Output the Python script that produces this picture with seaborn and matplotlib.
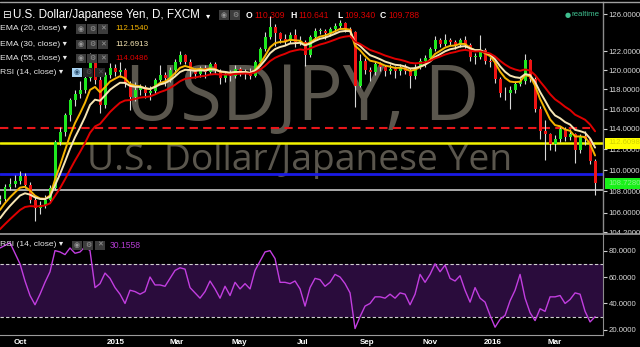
import numpy as np
import pandas as pd
import matplotlib
matplotlib.use("Agg")
import matplotlib.pyplot as plt
from matplotlib.patches import Rectangle
from matplotlib.lines import Line2D
from matplotlib.ticker import FixedLocator, FixedFormatter, NullLocator
import seaborn as sns

# ---------------- data ----------------
start_date = "2014-09-11"
end_date = "2016-04-08 18:00"
first_open = 107.1
close = [
    107.3, 108.4, 108.7, 109.0, 109.4, 108.6, 107.2, 106.4, 106.7, 107.2,
    108.3, 112.7, 113.7, 115.4, 116.9, 117.5, 117.9, 119.2, 121.1, 119.0,
    116.4, 119.5, 120.2, 119.8, 120.0, 118.6, 117.2, 117.9, 118.2, 117.6,
    117.8, 119.0, 119.5, 119.2, 120.0, 120.9, 121.6, 120.9, 119.9, 119.6,
    120.2, 119.8, 120.6, 119.9, 119.2, 119.6, 119.4, 120.1, 119.8, 119.8,
    119.4, 120.8, 122.2, 123.5, 124.6, 123.9, 123.3, 123.1, 123.7, 123.0,
    123.0, 121.6, 123.5, 124.2, 124.2, 123.9, 124.4, 124.7, 125.0, 124.4,
    124.1, 118.4, 121.0, 120.0, 119.8, 120.6, 120.3, 119.9, 120.1, 119.9,
    120.3, 119.9, 119.4, 120.3, 121.0, 121.3, 122.2, 123.2, 122.8, 123.2,
    123.0, 122.7, 123.2, 122.7, 121.4, 121.4, 122.1, 121.0, 120.8, 119.1,
    117.6, 117.6, 117.9, 118.6, 118.9, 121.1, 119.1, 116.0, 113.8, 113.5,
    112.5, 113.0, 114.0, 113.2, 113.5, 111.9, 113.3, 113.0, 110.9, 108.73,
]
high = [
    107.6, 108.7, 109.2, 109.5, 109.9, 109.7, 108.9, 107.5, 107.1, 107.6,
    108.6, 112.9, 114.2, 115.6, 117.1, 117.9, 118.9, 119.7, 121.8, 121.4,
    119.4, 119.8, 120.7, 120.6, 120.8, 120.2, 118.9, 118.8, 118.6, 118.5,
    118.3, 119.2, 120.5, 119.8, 120.3, 121.2, 122.0, 121.7, 121.2, 120.2,
    120.4, 120.5, 120.8, 120.8, 120.1, 119.9, 120.0, 120.5, 120.3, 120.1,
    120.2, 121.1, 122.4, 124.0, 125.8, 124.9, 124.0, 123.8, 124.0, 124.4,
    123.6, 123.2, 123.7, 124.5, 124.5, 124.4, 124.6, 125.0, 125.3, 125.1,
    124.6, 124.2, 121.7, 121.3, 120.3, 121.0, 120.9, 120.5, 120.6, 120.4,
    120.6, 120.6, 120.2, 120.6, 121.3, 121.6, 122.4, 123.6, 123.4, 123.8,
    123.4, 123.2, 123.4, 123.6, 122.9, 121.8, 123.7, 122.3, 121.4, 121.0,
    119.3, 118.2, 118.4, 118.9, 119.2, 121.7, 121.2, 119.3, 116.3, 114.9,
    113.6, 113.4, 114.3, 114.2, 114.0, 113.6, 113.5, 113.8, 113.1, 111.1,
]
low = [
    106.8, 107.1, 108.1, 108.4, 108.7, 108.3, 106.9, 105.2, 105.9, 106.4,
    107.0, 108.1, 112.4, 113.3, 114.8, 116.3, 117.1, 117.6, 118.9, 118.6,
    115.6, 116.1, 119.2, 119.4, 119.3, 118.2, 115.9, 116.8, 117.4, 117.1,
    116.9, 117.5, 118.6, 118.4, 118.8, 119.6, 120.6, 120.6, 119.3, 119.2,
    119.3, 119.2, 119.6, 119.6, 118.6, 118.8, 118.9, 119.2, 119.4, 119.1,
    119.1, 119.3, 120.6, 122.0, 123.3, 122.5, 122.9, 122.6, 122.9, 122.4,
    122.6, 120.4, 121.4, 123.2, 123.8, 123.3, 123.6, 124.1, 124.4, 124.0,
    123.5, 116.2, 118.2, 119.6, 118.9, 119.5, 119.9, 119.4, 119.6, 119.2,
    119.5, 119.6, 118.1, 119.1, 120.1, 120.3, 121.0, 122.0, 122.4, 122.5,
    122.6, 122.2, 122.4, 122.3, 121.0, 120.6, 121.2, 120.6, 120.3, 118.7,
    117.2, 116.9, 116.0, 117.6, 118.3, 118.6, 118.8, 115.7, 113.0, 111.0,
    111.9, 111.8, 112.7, 112.8, 112.9, 110.7, 111.6, 112.4, 110.6, 107.6,
]
rsi = [
    82, 84, 86, 78, 70, 57, 46, 39, 47, 56,
    64, 80, 79, 77, 82, 78, 79, 83, 80, 52,
    55, 63, 59, 52, 47, 40, 50, 49, 47, 49,
    60, 54, 54, 53, 59, 65, 67, 66, 52, 48,
    44, 49, 57, 51, 44, 53, 46, 56, 51, 55,
    51, 65, 72, 79, 80, 74, 56, 56, 55, 57,
    51, 38, 52, 59, 58, 53, 56, 62, 60, 55,
    48, 21, 30, 38, 40, 45, 45, 44, 47, 44,
    48, 47, 39, 47, 62, 56, 62, 70, 64, 69,
    59, 57, 61, 50, 41, 52, 44, 41, 31, 22,
    28, 31, 42, 50, 62, 44, 33, 27, 36, 34,
    45, 45, 46, 40, 43, 48, 47, 34, 26, 30,
]
ema_periods = [20, 30, 55]
ema_seed = [105.8, 105.0, 104.1]          # EMA levels just before the first bar
ema_colors = ["#f5b400", "#f7e6b4", "#e00000"]
days_per_bar = 3.45                         # trading days represented by one bar
level_red = 114.13
level_yellow = 112.6098
level_blue = 109.65
level_white = 108.13
last_price = 108.728
price_ticks = [104.2, 106, 108, 110, 112, 114, 116, 118, 120, 122, 126]
rsi_ticks = [20, 40, 60, 80]
month_ticks = ["2014-10-01", "2015-01-01", "2015-03-01", "2015-05-01", "2015-07-01",
               "2015-09-01", "2015-11-01", "2016-01-01", "2016-03-01"]
month_labels = ["Oct", "2015", "Mar", "May", "Jul", "Sep", "Nov", "2016", "Mar"]
ohlc_keys = ["O", "H", "L", "C"]
ohlc_vals = ["110.309", "110.641", "109.340", "109.788"]

# ---------------- setup ----------------
sns.set_style("dark", rc={"axes.facecolor": "black", "figure.facecolor": "black"})
plt.rcParams["font.family"] = ["Liberation Sans", "DejaVu Sans"]

W, H = 640, 347
fig = plt.figure(figsize=(W / 100, H / 100), dpi=100, facecolor="black")


def fx(x):
    return x / W


def fy(y):
    return 1 - y / H


ax = fig.add_axes([0, fy(233), fx(603), (233 - 2) / H], zorder=0)
rax = fig.add_axes([0, fy(335), fx(603), (335 - 234) / H], zorder=2)

dates = pd.date_range(start_date, end_date, periods=len(close))
xmin, xmax = pd.Timestamp("2014-09-11"), pd.Timestamp("2016-04-16 10:00")

c = np.array(close)
o = np.array([first_open] + close[:-1])
hi = np.array(high)
lo = np.array(low)

# ---------------- price panel ----------------
ax.set_facecolor("black")
ax.set_yscale("log")
ax.set_ylim(104.13, 127.33)
ax.set_xlim(xmin, xmax)

up = c >= o
body_bottom = np.minimum(o, c)
body_h = np.maximum(np.abs(c - o), 0.08)
cols = np.where(up, "#1fe81f", "#f01414")
ax.vlines(dates, lo, hi, color="#d8d8d8", lw=0.8, zorder=3)
ax.bar(dates, body_h, bottom=body_bottom, width=2.9, color=cols, linewidth=0, zorder=4)

for period, seed, col in zip(ema_periods, ema_seed, ema_colors):
    s = pd.Series([seed] + close)
    e = s.ewm(span=period / days_per_bar, adjust=False).mean().iloc[1:].to_numpy()
    sns.lineplot(x=dates, y=e, ax=ax, color=col, lw=1.4, zorder=5)

ax.axhline(level_red, xmax=590 / 603, color="#e8161a", lw=1.5, ls=(0, (4, 2.5)), zorder=2)
ax.axhline(level_yellow, color="#f2f200", lw=1.8, zorder=2)
ax.axhline(level_blue, color="#1a1ae6", lw=2.0, zorder=2)
ax.axhline(level_white, color="#c8c8c8", lw=1.2, zorder=2)

# watermark
wm = "#5a564d"
ax.text(fx(302.5), fy(120.5), "USDJPY, D", transform=fig.transFigure, ha="center",
        va="baseline", fontsize=54.5, color=wm, family="Open Sans", zorder=1)
ax.text(fx(300), fy(170), "U.S. Dollar/Japanese Yen", transform=fig.transFigure,
        ha="center", va="baseline", fontsize=26.8, color=wm, family="Open Sans", zorder=1)

ax.yaxis.tick_right()
ax.yaxis.set_major_locator(FixedLocator(price_ticks))
ax.yaxis.set_major_formatter(FixedFormatter([f"{v:.4f}" for v in price_ticks]))
ax.yaxis.set_minor_locator(NullLocator())
ax.tick_params(axis="y", colors="#d0d0d0", labelsize=5.6, length=3, width=0.8, pad=1.2,
               labelcolor="#d8d8d8")
ax.tick_params(axis="x", bottom=False, labelbottom=False)
ax.set_xlabel("")
ax.set_ylabel("")
for sp in ["left", "top", "bottom"]:
    ax.spines[sp].set_visible(False)
ax.spines["right"].set_color("#8c8c8c")
ax.spines["right"].set_linewidth(1.0)
ax.grid(False)

# ---------------- RSI panel ----------------
rax.set_facecolor("black")
rax.set_xlim(xmin, xmax)
rax.set_ylim(16.1, 92.6)
rax.axhspan(30, 70, color="#2a0c3c", zorder=0, lw=0)
rax.axhline(70, color="#d0d0d0", lw=0.8, ls=(0, (3, 2)), zorder=1)
rax.axhline(30, color="#d0d0d0", lw=0.8, ls=(0, (3, 2)), zorder=1)
sns.lineplot(x=dates, y=rsi, ax=rax, color="#c23ee0", lw=1.0, zorder=3)

rax.yaxis.tick_right()
rax.yaxis.set_major_locator(FixedLocator(rsi_ticks))
rax.yaxis.set_major_formatter(FixedFormatter([f"{v:.4f}" for v in rsi_ticks]))
rax.tick_params(axis="y", colors="#d0d0d0", labelsize=5.6, length=3, width=0.8, pad=1.2,
                labelcolor="#d8d8d8")
rax.xaxis.set_major_locator(FixedLocator([matplotlib.dates.date2num(pd.Timestamp(d)) for d in month_ticks]))
rax.xaxis.set_major_formatter(FixedFormatter(month_labels))
rax.tick_params(axis="x", colors="#b0b0b0", labelsize=5.8, length=2, width=0.8, pad=1.0,
                labelcolor="white")
for lab in rax.get_xticklabels():
    lab.set_fontweight("bold")
rax.set_xlabel("")
rax.set_ylabel("")
for sp in ["left", "top"]:
    rax.spines[sp].set_visible(False)
rax.spines["right"].set_color("#8c8c8c")
rax.spines["bottom"].set_color("#9a9a9a")
rax.grid(False)

# ---------------- figure-level decorations ----------------
# cover below the price label column (clips 104.2000 label)
fig.patches.append(Rectangle((fx(604), 0), fx(36), fy(234), transform=fig.transFigure,
                             facecolor="black", edgecolor="none", zorder=1))
# separators
fig.lines.append(Line2D([0, 1], [fy(1.5), fy(1.5)], transform=fig.transFigure,
                        color="#a0a0a0", lw=1.0, zorder=3))
fig.lines.append(Line2D([0, 1], [fy(233.7), fy(233.7)], transform=fig.transFigure,
                        color="#9a9a9a", lw=1.2, zorder=3))

# price labels on the axis
fig.patches.append(Rectangle((fx(605), fy(148.5)), fx(35), 11 / H, transform=fig.transFigure,
                             facecolor="#ffff00", edgecolor="none", zorder=1.5))
fig.text(fx(608), fy(143), f"{level_yellow:.4f}", color="#d2d200", fontsize=5.6,
         va="center", ha="left", zorder=3)
fig.patches.append(Rectangle((fx(605), fy(188.8)), fx(35), 11 / H, transform=fig.transFigure,
                             facecolor="#19f019", edgecolor="none", zorder=1.5))
fig.text(fx(608), fy(183.3), f"{last_price:.4f}", color="#8ef08e", fontsize=5.6,
         va="center", ha="left", zorder=3)


def ftext(x, y, s, **kw):
    kw.setdefault("va", "center")
    kw.setdefault("ha", "left")
    kw.setdefault("zorder", 6)
    fig.text(fx(x), fy(y), s, **kw)


def icon(x, y, w=10, h=9, fc="#3c3c3c", sym="", sc="#9a9a9a"):
    fig.patches.append(Rectangle((fx(x), fy(y + h / 2)), w / W, h / H, transform=fig.transFigure,
                                 facecolor=fc, edgecolor="none", zorder=5))
    if sym:
        fig.text(fx(x + w / 2), fy(y), sym, color=sc, fontsize=5, ha="center", va="center",
                 zorder=6, family=["DejaVu Sans"])


# header
ftext(2, 15, "\u229f", color="white", fontsize=7.5, family=["DejaVu Sans"])
ftext(13, 15, "U.S. Dollar/Japanese Yen, D, FXCM", color="white", fontsize=8.4)
ftext(206, 15.5, "\u25be", color="white", fontsize=6, family=["DejaVu Sans"])
icon(219, 15, sym="\u25c9")
icon(230, 15, sym="\u2699")
key_x = [246, 290, 337, 380]
val_x = [254, 298, 344, 388]
for kx, vx, k, v in zip(key_x, val_x, ohlc_keys, ohlc_vals):
    ftext(kx, 15.5, k, color="white", fontsize=6.2, fontweight="bold")
    ftext(vx, 15.5, v, color="#d80000", fontsize=6.2)
ftext(565, 14.5, "\u25cf", color="#3fbf8f", fontsize=5, family=["DejaVu Sans"])
ftext(572, 14.5, "realtime", color="#3fbf8f", fontsize=5.7)

ema_rows = [29, 44, 58]
ema_names = ["EMA (20, close) \u25be", "EMA (30, close) \u25be", "EMA (55, close) \u25be"]
ema_vals = ["112.1540", "112.6913", "114.0486"]
for yy, name, val, col in zip(ema_rows, ema_names, ema_vals, ema_colors):
    ftext(0, yy, name, color="#e8e8e8", fontsize=6.1)
    icon(76, yy, sym="\u25c9")
    icon(87, yy, sym="\u2699")
    icon(98, yy, sym="\u2715")
    ftext(115, yy, val, color=col, fontsize=5.8)

ftext(0, 72, "RSI (14, close) \u25be", color="#e8e8e8", fontsize=6.1)
icon(72, 72, fc="#a9d3f2", sym="\u25c9", sc="#2a5070")
icon(83, 72, fc="#262626", sym="\u2699", sc="#5a5a5a")
icon(95, 72, fc="#262626", sym="\u2715", sc="#5a5a5a")

ftext(0, 245, "RSI (14, close) \u25be", color="#e8e8e8", fontsize=6.1)
icon(72, 245, sym="\u25c9")
icon(83, 245, sym="\u2699")
icon(95, 245, sym="\u2715")
ftext(110, 245, "30.1558", color="#b43cd2", fontsize=6.2)

fig.savefig("out.png", dpi=100, facecolor="black")
